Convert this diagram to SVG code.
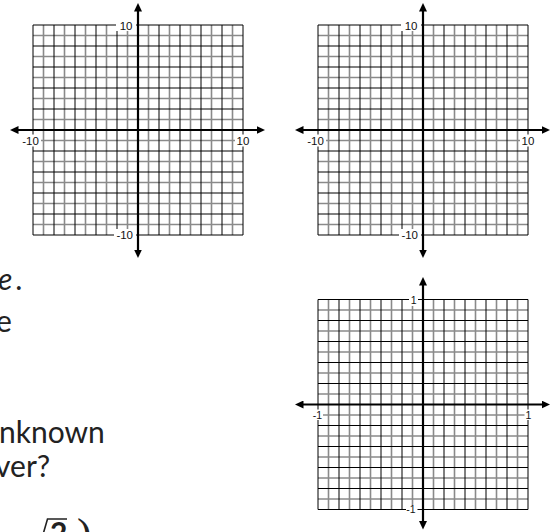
<svg xmlns="http://www.w3.org/2000/svg" xmlns:xlink="http://www.w3.org/1999/xlink" width="556" height="532" viewBox="0 0 556 532">
<style>
.gk{fill:none;stroke:#000;stroke-width:1}
.gg{fill:none;stroke:#8a8a8a;stroke-width:1.6}
.ax{stroke:#000;stroke-width:2.2;fill:none;marker-start:url(#ah);marker-end:url(#ah)}
.ko{fill:#fff}
.lab{font-family:"Liberation Sans",Arial,sans-serif;font-size:11.5px;fill:#111}
.lab1{font-family:"Liberation Sans",Arial,sans-serif;font-size:10.5px;fill:#111}
.t{font-family:Lato,"Open Sans",sans-serif;font-size:30px;fill:#222}
</style>
<defs>
<marker id="ah" viewBox="0 0 8.5 8" markerWidth="8.5" markerHeight="8" refX="2.5" refY="4" orient="auto-start-reverse" markerUnits="userSpaceOnUse">
<path d="M0,0 L8.5,4 L0,8 z" fill="#000"/>
</marker>
<g id="grid">
<path class="gg" d="M10.5 0V210M31.5 0V210M52.5 0V210M73.5 0V210M94.5 0V210M115.5 0V210M136.5 0V210M157.5 0V210M178.5 0V210M199.5 0V210M0 10.5H210M0 31.5H210M0 52.5H210M0 73.5H210M0 94.5H210M0 115.5H210M0 136.5H210M0 157.5H210M0 178.5H210M0 199.5H210"/>
<path class="gk" d="M0 0V210M21 0V210M42 0V210M63 0V210M84 0V210M105 0V210M126 0V210M147 0V210M168 0V210M189 0V210M210 0V210M0 0H210M0 21H210M0 42H210M0 63H210M0 84H210M0 105H210M0 126H210M0 147H210M0 168H210M0 189H210M0 210H210"/>
</g>
</defs>
<rect width="556" height="532" fill="#fff"/>

<g id="graph1">
<use xlink:href="#grid" href="#grid" x="33" y="25"/>
<rect class="ko" x="116" y="20" width="20" height="11"/>
<rect class="ko" x="114" y="229" width="22" height="11"/>
<rect class="ko" x="20" y="134.5" width="21" height="12"/>
<rect class="ko" x="235" y="134.5" width="16" height="12"/>
<line class="ax" x1="138" y1="9" x2="138" y2="252"/>
<line class="ax" x1="16" y1="130" x2="259" y2="130"/>
<text class="lab" x="132.5" y="30" text-anchor="end">10</text>
<text class="lab" x="133" y="238.5" text-anchor="end">-10</text>
<text class="lab" x="30.5" y="144.5" text-anchor="middle">-10</text>
<text class="lab" x="243" y="144.5" text-anchor="middle">10</text>
</g>

<g id="graph2">
<use xlink:href="#grid" href="#grid" x="318" y="25"/>
<rect class="ko" x="401" y="20" width="20" height="11"/>
<rect class="ko" x="399" y="229" width="22" height="11"/>
<rect class="ko" x="305" y="134.5" width="21" height="12"/>
<rect class="ko" x="520" y="134.5" width="16" height="12"/>
<line class="ax" x1="423" y1="9" x2="423" y2="252"/>
<line class="ax" x1="301" y1="130" x2="544" y2="130"/>
<text class="lab" x="417.5" y="30" text-anchor="end">10</text>
<text class="lab" x="418" y="238.5" text-anchor="end">-10</text>
<text class="lab" x="315.5" y="144.5" text-anchor="middle">-10</text>
<text class="lab" x="528" y="144.5" text-anchor="middle">10</text>
</g>

<g id="graph3">
<use xlink:href="#grid" href="#grid" x="318" y="299.5"/>
<rect class="ko" x="409" y="295" width="9" height="11"/>
<rect class="ko" x="406" y="505" width="11.5" height="10"/>
<rect class="ko" x="311.5" y="409.5" width="11.5" height="10.5"/>
<rect class="ko" x="524.5" y="409.5" width="8" height="10.5"/>
<line class="ax" x1="423" y1="283" x2="423" y2="523.5"/>
<line class="ax" x1="301" y1="404.5" x2="544" y2="404.5"/>
<text class="lab1" x="416.5" y="304" text-anchor="end">1</text>
<text class="lab1" x="415.5" y="513" text-anchor="end">-1</text>
<text class="lab1" x="317.5" y="418.5" text-anchor="middle">-1</text>
<text class="lab1" x="528.5" y="418.5" text-anchor="middle">1</text>
</g>

<g id="text">
<text class="t" x="-2" y="290"><tspan font-style="italic">e</tspan><tspan dx="3">.</tspan></text>
<text class="t" x="-4" y="332">e</text>
<text class="t" x="-1" y="443">nknown</text>
<text class="t" x="-5" y="477">ver?</text>
<polyline points="42,538 47.5,519 67,519" fill="none" stroke="#222" stroke-width="1.6"/>
<text class="t" x="50" y="544" font-weight="bold" font-size="27">2</text>
<text x="77" y="549" font-family="'Liberation Serif',serif" font-size="44" fill="#222">)</text>
</g>
</svg>
